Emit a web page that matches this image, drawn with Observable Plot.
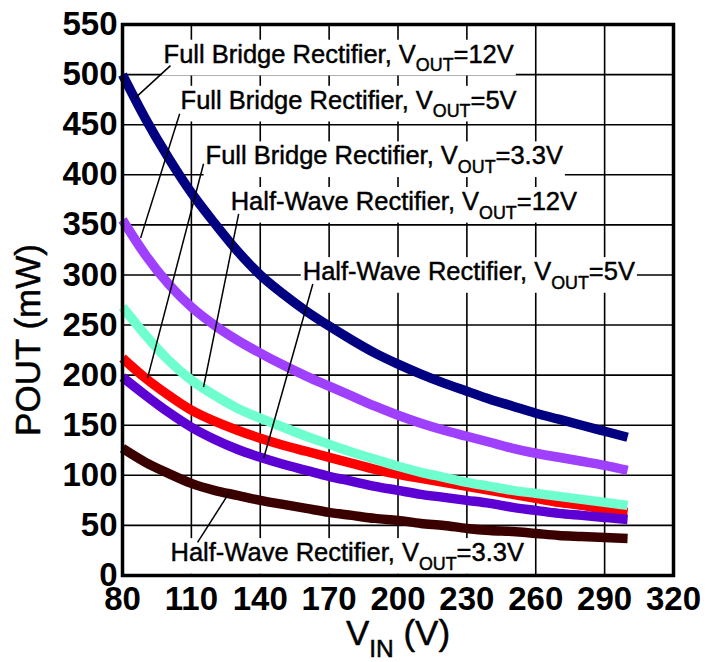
<!DOCTYPE html>
<html><head><meta charset="utf-8">
<script src="https://cdn.jsdelivr.net/npm/d3@7"></script>
<script src="https://cdn.jsdelivr.net/npm/@observablehq/plot@0.6"></script>
<style>body{margin:0;background:#fff} svg{display:block}</style>
</head><body><div id="chart"></div>
<script>
// Input voltage (V)
const vin = [80,90,100,110,120,130,140,150,160,170,180,190,200,210,220,230,240,250,260,270,280,290,300];
// Output power (mW) per configuration
const fullBridge12V = [500,456,417,382,352,324,300,281,264,249,235,222,211,201,192,184,176,169,162,156,150,144,138];
const fullBridge5V  = [355,320,291,268,250,235,222,210,199,189,179,169,160,152,145,139,133,127,122,118,114,110,105];
const fullBridge33V = [217,197,180,165,154,145,137,130,124,118,112,106,101,97,93,89,85,81,77,73,70,66,63];
const halfWave12V   = [268,240,215,195,180,167,157,148,139,131,123,116,109,103,98,93,89,85,82,79,76,73,70];
const halfWave5V    = [198,180,163,148,136,126,118,111,105,99,94,89,85,81,78,75,72,68,65,62,60,58,56];
const halfWave33V   = [127,113,102,92,85,80,75,71,67,63,60,57,55,52,50,47,45,44,42,40,39,38,37];

const seriesNames = ["HW 3.3V","FB 3.3V","HW 5V","HW 12V","FB 5V","FB 12V"];
const seriesValues = [halfWave33V, fullBridge33V, halfWave5V, halfWave12V, fullBridge5V, fullBridge12V];
const seriesColors = ["#3a0000","#ff0000","#5c00d4","#6fffcf","#a040ff","#000080"];

const xTicks = [80,110,140,170,200,230,260,290,320];
const yTicks = [0,50,100,150,200,250,300,350,400,450,500,550];

// Annotation labels ({...} = subscript)
const labelTexts = [
  "Full Bridge Rectifier, V{OUT}=12V",
  "Full Bridge Rectifier, V{OUT}=5V",
  "Full Bridge Rectifier, V{OUT}=3.3V",
  "Half-Wave Rectifier, V{OUT}=12V",
  "Half-Wave Rectifier, V{OUT}=5V",
  "Half-Wave Rectifier, V{OUT}=3.3V"
];
const labelV = [97.9,105.3,116.2,127.1,158.5,100.9];
const labelP = [520,474,418.5,373,303,22.5];
// Leader lines: from label (V1,P1) to curve (V2,P2)
const leaderV1 = [100.9,104.9,115.3,130.6,162.9,112.7];
const leaderP1 = [509,461,411,361,291,33];
const leaderV2 = [85.7,87.9,90.9,115.3,141.5,126.3];
const leaderP2 = [477,337,197,188,117,82];

const rows = seriesNames.flatMap((s, k) => vin.map((v, i) => ({series: s, v, p: seriesValues[k][i]})));
const labels = labelTexts.map((t, i) => ({t, v: labelV[i], p: labelP[i]}));
const leaders = leaderV1.map((v, i) => ({v1: v, p1: leaderP1[i], v2: leaderV2[i], p2: leaderP2[i]}));

const svg = Plot.plot({
  width: 707, height: 662,
  marginLeft: 122, marginRight: 34, marginTop: 24, marginBottom: 87,
  style: {fontFamily: "'Liberation Sans', Arial, sans-serif", color: "black", background: "white"},
  x: {domain: [80, 320]},
  y: {domain: [0, 550]},
  color: {domain: seriesNames, range: seriesColors},
  marks: [
    Plot.gridX(xTicks, {stroke: "black", strokeOpacity: 1, strokeWidth: 1.6}),
    Plot.gridY(yTicks, {stroke: "black", strokeOpacity: 1, strokeWidth: 1.6}),
    Plot.line(rows, {x: "v", y: "p", z: "series", stroke: "series", strokeWidth: 9.5, curve: "monotone-x", strokeLinecap: "butt"}),
    Plot.text(labels, {x: "v", y: "p", text: "t", textAnchor: "start", lineAnchor: "middle", fontSize: 25.5, fill: "black", stroke: "black", strokeWidth: 0.45}),
    Plot.link(leaders, {x1: "v1", y1: "p1", x2: "v2", y2: "p2", stroke: "black", strokeWidth: 1.5}),
    Plot.frame({stroke: "black", strokeWidth: 3.5}),
    Plot.axisX(xTicks, {tickSize: 0, tickPadding: 11, fontSize: 33, fontWeight: "bold", label: null}),
    Plot.axisY(yTicks, {tickSize: 0, tickPadding: 5, fontSize: 33, fontWeight: "bold", label: null}),
    Plot.text(["POUT (mW)"], {text: d => d, frameAnchor: "left", rotate: -90, textAnchor: "middle", lineAnchor: "middle", dx: -94, dy: 40, fontSize: 35, fill: "black", stroke: "black", strokeWidth: 0.5}),
    Plot.text(["V{IN} (V)"], {text: d => d, frameAnchor: "bottom", textAnchor: "middle", lineAnchor: "middle", dy: 58, fontSize: 35, fill: "black", stroke: "black", strokeWidth: 0.5})
  ]
});
document.getElementById("chart").append(svg);

// Subscripts
d3.select(svg).selectAll("text").each(function() {
  const t = this.textContent;
  if (!t.includes("{")) return;
  const fs = parseFloat(getComputedStyle(this).fontSize);
  const parts = t.split(/(\{[^}]*\})/).filter(s => s);
  const sel = d3.select(this);
  sel.text(null);
  let shifted = false;
  for (const p of parts) {
    if (p.startsWith("{")) {
      sel.append("tspan").attr("font-size", 0.7 * fs).attr("dy", 0.34 * fs).text(p.slice(1, -1));
      shifted = true;
    } else {
      const ts = sel.append("tspan").text(p);
      if (shifted) { ts.attr("dy", -0.34 * fs); shifted = false; }
    }
  }
});
// White boxes behind annotation labels
d3.select(svg).selectAll("text").filter(function() { return this.textContent.includes("Rectifier"); }).each(function() {
  const b = this.getBBox();
  const r = document.createElementNS("http://www.w3.org/2000/svg", "rect");
  r.setAttribute("x", b.x - 2);
  r.setAttribute("y", b.y);
  r.setAttribute("width", b.width + 4);
  r.setAttribute("height", b.height);
  r.setAttribute("fill", "white");
  r.setAttribute("stroke", "none");
  const tr = this.getAttribute("transform");
  if (tr) r.setAttribute("transform", tr);
  this.parentNode.insertBefore(r, this);
});
</script>
</body></html>
